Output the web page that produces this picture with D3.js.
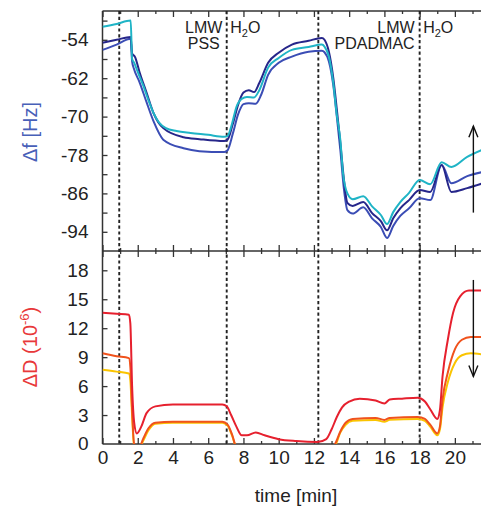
<!DOCTYPE html>
<html>
<head>
<meta charset="utf-8">
<script src="https://cdn.jsdelivr.net/npm/d3@7"></script>
<style>
  body { margin: 0; background: #fff; }
  svg { display: block; font-family: "Liberation Sans", Arial, sans-serif; }
  .tick line { stroke: #333; stroke-width: 1.3; }
  .tick text { fill: #222; font-size: 19px; }
</style>
</head>
<body>
<svg id="chart" width="481" height="507"></svg>
<script>
// frequency shift (Hz) vs time (min)
var freqCyan = [[0,-51.3],[0.8,-50.7],[1.6,-50.0],[1.68,-58.0],[1.8,-58.8],[2.0,-60.7],[2.3,-63.4],[2.6,-66.5],[2.9,-69.3],[3.2,-71.2],[3.6,-72.4],[4.2,-73.0],[5.0,-73.4],[6.0,-73.8],[6.9,-74.2],[7.1,-74.0],[7.35,-71.5],[7.6,-68.0],[7.9,-66.3],[8.2,-65.9],[8.6,-66.0],[8.9,-64.5],[9.4,-59.8],[10.0,-57.8],[10.75,-56.1],[11.7,-55.5],[12.45,-55.0],[12.6,-55.4],[12.85,-57.5],[13.1,-63.0],[13.3,-69.7],[13.5,-74.9],[13.65,-81.8],[13.9,-86.0],[14.2,-87.2],[14.8,-86.6],[15.3,-88.7],[15.8,-90.5],[16.15,-92.4],[16.5,-89.9],[16.9,-87.8],[17.4,-85.9],[18.0,-83.2],[18.6,-84.1],[19.25,-79.5],[19.8,-80.5],[20.7,-78.4],[21.5,-77.0]];
var freqNavy = [[0,-54.6],[0.8,-54.0],[1.6,-53.4],[1.68,-56.8],[1.85,-57.6],[2.1,-60.7],[2.5,-65.0],[2.9,-69.3],[3.45,-72.4],[4.6,-74.3],[5.5,-74.7],[6.9,-75.1],[7.1,-74.8],[7.4,-71.5],[7.7,-67.5],[8.0,-65.0],[8.3,-64.5],[8.6,-64.9],[8.9,-63.0],[9.4,-58.8],[10.0,-56.7],[10.75,-55.0],[11.7,-54.2],[12.45,-53.6],[12.6,-54.0],[12.85,-56.5],[13.1,-62.0],[13.3,-68.5],[13.5,-75.5],[13.7,-83.0],[13.9,-88.0],[14.2,-88.6],[14.8,-87.8],[15.3,-90.1],[15.8,-91.8],[16.15,-93.7],[16.5,-91.2],[16.9,-89.1],[17.4,-87.4],[18.0,-85.3],[18.6,-85.7],[19.25,-80.1],[19.8,-85.7],[20.7,-84.9],[21.5,-84.0]];
var freqBlue = [[0,-56.1],[0.8,-55.0],[1.6,-53.8],[1.68,-58.5],[1.78,-60.0],[2.1,-62.8],[2.5,-67.0],[2.9,-71.0],[3.45,-74.8],[4.6,-76.6],[5.5,-77.2],[6.9,-77.4],[7.1,-77.0],[7.4,-73.5],[7.7,-69.5],[8.0,-67.4],[8.3,-67.2],[8.7,-67.3],[9.0,-65.5],[9.4,-61.3],[10.0,-58.8],[10.75,-57.5],[11.7,-56.5],[12.45,-56.3],[12.6,-56.6],[12.85,-58.5],[13.1,-63.5],[13.3,-70.0],[13.5,-77.0],[13.7,-85.0],[13.9,-89.5],[14.2,-90.2],[14.8,-88.9],[15.3,-91.2],[15.8,-93.0],[16.15,-95.3],[16.5,-92.8],[16.9,-90.7],[17.4,-89.1],[18.0,-87.0],[18.6,-87.4],[19.25,-80.1],[19.8,-83.9],[20.7,-82.4],[21.5,-81.6]];

// dissipation shift (1e-6) vs time (min)
var dissRed = [[0,13.6],[0.8,13.5],[1.5,13.4],[1.58,12.5],[1.68,6.0],[1.8,2.2],[1.95,1.1],[2.2,1.8],[2.5,3.2],[3.0,3.9],[4.0,4.1],[5.5,4.1],[6.8,4.1],[7.05,3.9],[7.3,3.0],[7.6,1.8],[7.9,0.9],[8.2,0.9],[8.7,1.2],[9.2,0.9],[10.0,0.5],[11.0,0.3],[12.2,0.2],[12.7,0.5],[13.0,1.5],[13.3,2.8],[13.6,3.8],[14.0,4.4],[14.6,4.7],[15.5,4.5],[16.0,4.2],[16.3,4.6],[17.0,4.7],[17.9,4.8],[18.3,4.4],[18.6,3.6],[19.0,2.6],[19.15,3.5],[19.3,7.0],[19.6,10.8],[19.9,13.6],[20.3,15.3],[20.8,15.9],[21.5,15.9]];
var dissOrange = [[0,9.4],[0.8,9.1],[1.5,8.9],[1.58,8.0],[1.68,3.5],[1.8,0.0],[2.1,-0.3],[2.3,0.5],[2.6,1.6],[3.0,2.2],[4.0,2.3],[6.8,2.3],[7.1,2.0],[7.35,1.0],[7.65,-0.5],[13.0,-0.5],[13.2,0],[13.5,1.3],[13.8,2.2],[14.2,2.6],[15.5,2.7],[16.0,2.5],[16.3,2.7],[17.9,2.8],[18.3,2.6],[18.6,2.0],[19.0,1.1],[19.15,1.8],[19.3,4.6],[19.6,7.4],[20.0,9.8],[20.4,10.8],[20.9,11.1],[21.5,11.1]];
var dissYellow = [[0,7.7],[0.8,7.5],[1.5,7.3],[1.58,6.6],[1.68,3.0],[1.78,0],[2.1,-0.4],[2.3,0.3],[2.6,1.4],[3.0,2.1],[4.0,2.2],[6.8,2.2],[7.1,1.9],[7.35,0.9],[7.65,-0.5],[13.0,-0.5],[13.25,0],[13.5,1.2],[13.8,2.0],[14.2,2.4],[15.5,2.5],[16.0,2.3],[16.3,2.5],[17.9,2.6],[18.3,2.4],[18.6,1.8],[19.0,0.9],[19.15,1.5],[19.3,3.8],[19.6,6.4],[20.0,8.4],[20.4,9.2],[20.9,9.4],[21.5,9.3]];

var freqTicks = d3.range(-94, -49, 4);
var freqLabels = [-94, -86, -78, -70, -62, -54];
var dissTicks = [0, 3, 6, 9, 12, 15, 18];
var timeMajor = [0, 2, 4, 6, 8, 10, 12, 14, 16, 18, 20];
var timeMinor = [1, 3, 5, 7, 9, 11, 13, 15, 17, 19, 21];
var switchTimes = [0.95, 7.05, 12.25, 18.0];
var arrowTime = 21.05;
var freqArrow = [-90, -72];
var dissArrow = [17, 7];

var LEFT = 102.5, RIGHT = 481.3, TOP = 11, MID = 251, BOTTOM = 444;

var svg = d3.select("#chart");

var x = d3.scaleLinear().domain([0, 21.5]).range([LEFT, RIGHT]);
var yF = d3.scaleLinear().domain([-98, -48]).range([MID, TOP]);
var yD = d3.scaleLinear().domain([0, 20]).range([BOTTOM, MID]);

var defs = svg.append("defs");
defs.append("clipPath").attr("id", "clipTop").append("rect")
    .attr("x", LEFT).attr("y", TOP).attr("width", RIGHT - LEFT).attr("height", MID - TOP);
defs.append("clipPath").attr("id", "clipBot").append("rect")
    .attr("x", LEFT).attr("y", MID).attr("width", RIGHT - LEFT).attr("height", BOTTOM - MID);

function fmt(d) { return String(d); }

// left axes
svg.append("g").attr("transform", "translate(" + LEFT + ",0)")
    .call(d3.axisLeft(yF).tickValues(freqTicks).tickSize(-5).tickPadding(14)
        .tickFormat(function (d) { return freqLabels.indexOf(d) >= 0 ? fmt(d) : ""; }))
    .call(function (g) { g.select(".domain").remove(); });

svg.append("g").attr("transform", "translate(" + LEFT + ",0)")
    .call(d3.axisLeft(yD).tickValues(dissTicks.slice(1)).tickSize(-5).tickPadding(14).tickFormat(fmt))
    .call(function (g) { g.select(".domain").remove(); });
svg.append("text").attr("x", LEFT - 14).attr("y", yD(0)).attr("dy", "0.32em")
    .attr("text-anchor", "end").attr("fill", "#222").attr("font-size", 19).text("0");

// x ticks: bottom, middle (both ways), top
function xTicks(y, values, size, labels) {
    var ax = d3.axisBottom(x).tickValues(values).tickSize(size).tickPadding(7)
        .tickFormat(labels ? fmt : function () { return ""; });
    svg.append("g").attr("transform", "translate(0," + y + ")").call(ax)
        .call(function (g) { g.select(".domain").remove(); });
}
xTicks(BOTTOM, timeMajor, -6, true);
xTicks(BOTTOM, timeMinor, -3, false);
xTicks(MID, timeMajor, -6, false);
xTicks(MID, timeMajor, 6, false);
xTicks(MID, timeMinor, -3, false);
xTicks(MID, timeMinor, 3, false);
xTicks(TOP, timeMajor, 6, false);
xTicks(TOP, timeMinor, 3, false);

// frame
var frame = svg.append("g").attr("stroke", "#333").attr("stroke-width", 1.5).attr("fill", "none");
frame.append("line").attr("x1", LEFT).attr("x2", RIGHT).attr("y1", TOP).attr("y2", TOP);
frame.append("line").attr("x1", LEFT).attr("x2", RIGHT).attr("y1", MID).attr("y2", MID);
frame.append("line").attr("x1", LEFT).attr("x2", RIGHT).attr("y1", BOTTOM).attr("y2", BOTTOM);
frame.append("line").attr("x1", LEFT).attr("x2", LEFT).attr("y1", TOP).attr("y2", BOTTOM);

// switching lines
svg.append("g").selectAll("line").data(switchTimes).enter().append("line")
    .attr("x1", function (d) { return x(d); }).attr("x2", function (d) { return x(d); })
    .attr("y1", TOP).attr("y2", BOTTOM)
    .attr("stroke", "#222").attr("stroke-width", 1.9).attr("stroke-dasharray", "3.2,2.6");

// data lines
var lineF = d3.line().x(function (d) { return x(d[0]); }).y(function (d) { return yF(d[1]); }).curve(d3.curveMonotoneX);
var lineD = d3.line().x(function (d) { return x(d[0]); }).y(function (d) { return yD(d[1]); }).curve(d3.curveMonotoneX);

var topSeries = [{ data: freqBlue, color: "#3b4db5" }, { data: freqNavy, color: "#26268a" }, { data: freqCyan, color: "#1fb4c6" }];
var botSeries = [{ data: dissYellow, color: "#fac400" }, { data: dissOrange, color: "#f0521c" }, { data: dissRed, color: "#e6202e" }];

svg.append("g").attr("clip-path", "url(#clipTop)").selectAll("path").data(topSeries).enter().append("path")
    .attr("d", function (d) { return lineF(d.data); })
    .attr("fill", "none").attr("stroke", function (d) { return d.color; }).attr("stroke-width", 2);
svg.append("g").attr("clip-path", "url(#clipBot)").selectAll("path").data(botSeries).enter().append("path")
    .attr("d", function (d) { return lineD(d.data); })
    .attr("fill", "none").attr("stroke", function (d) { return d.color; }).attr("stroke-width", 2);

// arrows
function arrow(x0, yFrom, yTo) {
    var dir = yTo < yFrom ? 1 : -1;
    var g = svg.append("g").attr("stroke", "#111").attr("stroke-width", 1.4).attr("fill", "none");
    g.append("line").attr("x1", x0).attr("x2", x0).attr("y1", yFrom).attr("y2", yTo);
    g.append("path").attr("d", "M" + (x0 - 4.5) + "," + (yTo + dir * 11) + "L" + x0 + "," + yTo + "L" + (x0 + 4.5) + "," + (yTo + dir * 11));
}
arrow(x(arrowTime), yF(freqArrow[0]), yF(freqArrow[1]));
arrow(x(arrowTime), yD(dissArrow[0]), yD(dissArrow[1]));

// solution labels
var lab = svg.append("g").attr("fill", "#222").attr("font-size", 16);
lab.append("text").attr("x", x(switchTimes[1]) - 23).attr("y", 33).attr("text-anchor", "middle").text("LMW");
lab.append("text").attr("x", x(switchTimes[1]) - 23).attr("y", 49).attr("text-anchor", "middle").text("PSS");
lab.append("text").attr("x", x(switchTimes[3]) - 5).attr("y", 33).attr("text-anchor", "end").text("LMW");
lab.append("text").attr("x", x(switchTimes[3]) - 5).attr("y", 49).attr("text-anchor", "end").text("PDADMAC");
[switchTimes[1], switchTimes[3]].forEach(function (t) {
    var h = lab.append("text").attr("x", x(t) + 3.5).attr("y", 33);
    h.append("tspan").text("H");
    h.append("tspan").attr("font-size", 11).attr("dy", 4).text("2");
    h.append("tspan").attr("dy", -4).text("O");
});

// axis titles
svg.append("text").attr("transform", "translate(37,132) rotate(-90)")
    .attr("text-anchor", "middle").attr("fill", "#4860b8").attr("font-size", 20).text("\u0394f [Hz]");
var dt = svg.append("text").attr("transform", "translate(37,347) rotate(-90)")
    .attr("text-anchor", "middle").attr("fill", "#e8383a").attr("font-size", 20);
dt.append("tspan").text("\u0394D (10");
dt.append("tspan").attr("font-size", 13).attr("dy", -8).text("-6");
dt.append("tspan").attr("dy", 8).text(")");
svg.append("text").attr("x", 296).attr("y", 502).attr("text-anchor", "middle")
    .attr("fill", "#222").attr("font-size", 19).text("time [min]");
</script>
</body>
</html>
